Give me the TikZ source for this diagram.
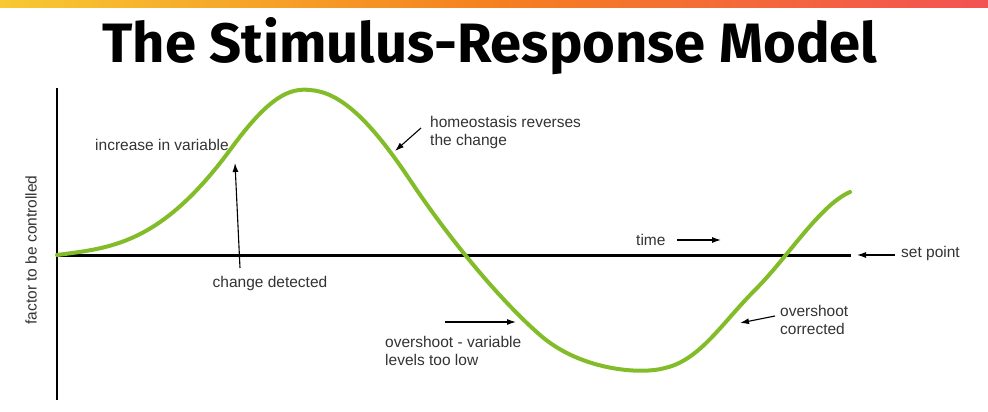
\documentclass[tikz,border=0pt]{standalone}
\usepackage{fontspec}
\setmainfont{Liberation Sans}
\newfontfamily\titlefont{Fira Sans}
\usetikzlibrary{arrows.meta}
\definecolor{yg}{HTML}{C8DC4A}
\definecolor{yl}{HTML}{F8E63A}
\definecolor{orng}{HTML}{F5801F}
\definecolor{pnk}{HTML}{F02486}
\definecolor{curve}{HTML}{82BC28}
\pgfdeclarehorizontalshading{topbar}{100bp}{color(0bp)=(yg); color(15bp)=(yl); color(50bp)=(orng); color(100bp)=(pnk)}
\begin{document}
\begin{tikzpicture}[x=1pt,y=-1pt,
  lbl/.style={font=\fontsize{15.5}{18}\selectfont, text=black!80, align=left, inner sep=0},
  arr/.style={-{Latex[length=9pt,width=6pt]}, line width=1.1pt, black}]
\useasboundingbox (0,0) rectangle (988,412);
\fill[white] (0,0) rectangle (988,412);
\shade[shading=topbar] (0,0) rectangle (988,8);
\node (title) at (490,46) {\resizebox{775pt}{45pt}{\titlefont\bfseries The Stimulus-Response Model}};
% axes
\coordinate (ytop) at (57,88);
\coordinate (ybot) at (57,400);
\coordinate (xend) at (851,255);
\draw[line width=2.5pt] (ytop) -- (ybot);
\draw[line width=3pt] (ybot |- xend) -- (xend);
% curve
\draw[curve, line width=4pt, line cap=round]
  (57,255) .. controls (110,248) and (160,245) .. (230,150)
  .. controls (270,95) and (290,88) .. (310,90)
  .. controls (340,92) and (370,120) .. (410,180)
  .. controls (450,240) and (500,300) .. (540,335)
  .. controls (580,370) and (640,375) .. (665,368)
  .. controls (700,360) and (722,323) .. (755,290)
  .. controls (788,257) and (820,205) .. (850,192);
% labels
\node[lbl, anchor=west] (inc) at (95,145) {increase in variable};
\node[lbl] (cd) at (270,283) {change detected};
\coordinate (cdt) at (240,268);
\coordinate (cdh) at (235,163);
\draw[arr] (cdt) -- (cdh);
\node[lbl, anchor=north west] (homeo) at (430,116) {homeostasis reverses\\the change};
\coordinate (ht) at (421,128);
\coordinate (hh) at (395,151);
\draw[arr] (ht) -- (hh);
\node[lbl, anchor=west] (time) at (636,240) {time};
\coordinate (tt) at (677,240);
\coordinate (th) at (721,240);
\draw[arr] (tt) -- (th);
\node[lbl, anchor=west] (sp) at (901,253) {set point};
\coordinate (st) at (895,255);
\coordinate (sh) at (857,255);
\draw[arr] (st) -- (sh);
\node[lbl, anchor=north west] (os) at (385,336) {overshoot - variable\\levels too low};
\coordinate (ot) at (445,322);
\coordinate (oh) at (516,322);
\draw[arr] (ot) -- (oh);
\node[lbl, anchor=north west] (oc) at (780,305) {overshoot\\corrected};
\coordinate (ct) at (775,316);
\coordinate (ch) at (740,323);
\draw[arr] (ct) -- (ch);
\node[lbl, rotate=90] (ylab) at (31,250) {factor to be controlled};
\end{tikzpicture}
\end{document}
